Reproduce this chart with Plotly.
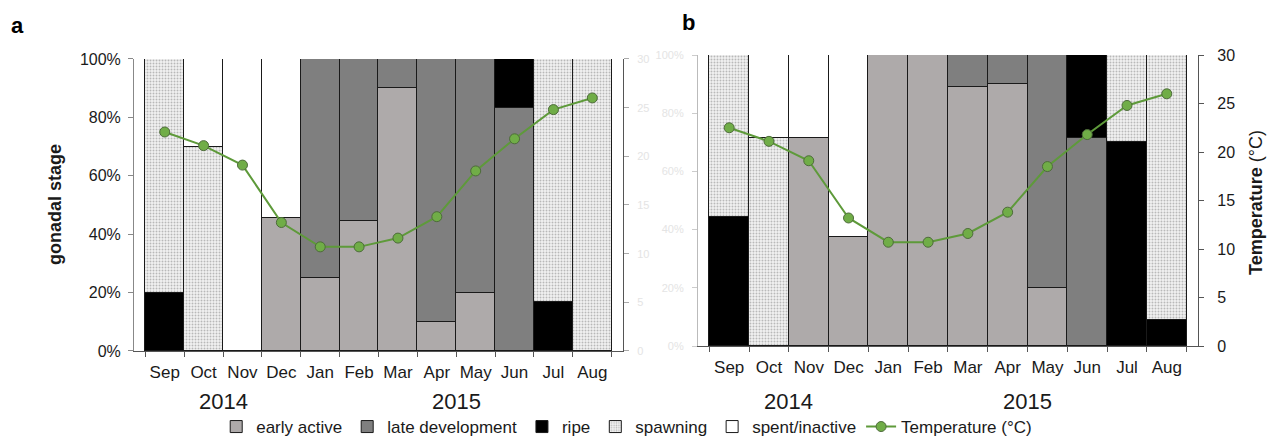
import plotly.graph_objects as go

# Sampling months (Sep 2014 - Aug 2015)
months = ["Sep", "Oct", "Nov", "Dec", "Jan", "Feb", "Mar", "Apr", "May", "Jun", "Jul", "Aug"]

# Mean monthly water temperature (°C)
temperature = [22.5, 21.1, 19.1, 13.2, 10.7, 10.7, 11.6, 13.8, 18.5, 21.8, 24.8, 26.0]

# Panel a: proportion of each gonadal stage (%)
a_early_active = [0, 0, 0, 45.5, 25.0, 44.4, 90.0, 10.0, 20.0, 0, 0, 0]
a_late_development = [0, 0, 0, 0, 75.0, 55.6, 10.0, 90.0, 80.0, 83.3, 0, 0]
a_ripe = [20.0, 0, 0, 0, 0, 0, 0, 0, 0, 16.7, 16.7, 0]
a_spawning = [80.0, 70.0, 0, 0, 0, 0, 0, 0, 0, 0, 83.3, 100.0]
a_spent_inactive = [0, 30.0, 100.0, 54.5, 0, 0, 0, 0, 0, 0, 0, 0]

# Panel b: proportion of each gonadal stage (%)
b_early_active = [0, 0, 71.4, 37.5, 100.0, 100.0, 88.9, 90.0, 20.0, 0, 0, 0]
b_late_development = [0, 0, 0, 0, 0, 0, 11.1, 10.0, 80.0, 71.4, 0, 0]
b_ripe = [44.4, 0, 0, 0, 0, 0, 0, 0, 0, 28.6, 70.0, 9.1]
b_spawning = [55.6, 71.4, 0, 0, 0, 0, 0, 0, 0, 0, 30.0, 90.9]
b_spent_inactive = [0, 28.6, 28.6, 62.5, 0, 0, 0, 0, 0, 0, 0, 0]

stage_names = ["early active", "late development", "ripe", "spawning", "spent/inactive"]
years = ["2014", "2015"]

FONT = "Liberation Sans, Arial, sans-serif"
stage_fill = {
    "early active": "#aeaaaa",
    "late development": "#7f7f7f",
    "ripe": "#000000",
    "spawning": "#e6e6e6",
    "spent/inactive": "#ffffff",
}

fig = go.Figure()

panels = [
    ("x", "y", [a_early_active, a_late_development, a_ripe, a_spawning, a_spent_inactive], "y2"),
    ("x2", "y3", [b_early_active, b_late_development, b_ripe, b_spawning, b_spent_inactive], "y4"),
]

for p, (xa, ya, stages, ta) in enumerate(panels):
    for name, vals in zip(stage_names, stages):
        marker = dict(color=stage_fill[name], line=dict(color="#1a1a1a", width=1))
        if name == "spawning":
            marker["pattern"] = dict(shape=".", fgcolor="#7a7a7a", bgcolor="#f2f2f2",
                                     size=3, solidity=0.3, fillmode="overlay")
        fig.add_trace(go.Bar(
            x=months, y=[v / 100 for v in vals], name=name, marker=marker,
            xaxis=xa, yaxis=ya, showlegend=(p == 0), legendgroup=name,
        ))
    fig.add_trace(go.Scatter(
        x=months, y=temperature, name="Temperature (°C)", mode="lines+markers",
        line=dict(color="#5e9a3a", width=2),
        marker=dict(size=10, color="#70ad47", line=dict(color="#4d6b3a", width=1)),
        xaxis=xa, yaxis=ta, showlegend=(p == 0), legendgroup="temp",
    ))

tickfont = dict(family=FONT, size=16, color="#1a1a1a")
monthfont = dict(family=FONT, size=17, color="#1a1a1a")
faint = dict(family=FONT, size=11, color="#e4e4e4")

xcommon = dict(type="category", tickson="boundaries", ticks="outside", ticklen=5,
               tickcolor="#555555", showline=True, linecolor="#555555", linewidth=1,
               tickfont=monthfont, tickangle=0, ticklabelstandoff=6,
               showgrid=False, zeroline=False, automargin=False)
pct_common = dict(range=[0, 1], dtick=0.2, tickformat=".0%", ticks="outside", ticklen=5,
                  showline=True, linewidth=1, showgrid=False, zeroline=False,
                  automargin=False)
temp_common = dict(range=[0, 30], dtick=5, ticks="outside", ticklen=5, showline=True,
                   linewidth=1, showgrid=False, zeroline=False, side="right",
                   automargin=False)

fig.update_layout(
    width=1279, height=437,
    margin=dict(l=0, r=0, t=0, b=0, autoexpand=False),
    paper_bgcolor="white", plot_bgcolor="white",
    barmode="stack", bargap=0,
    font=dict(family=FONT, size=16, color="#1a1a1a"),
    xaxis=dict(xcommon, domain=[0.1048, 0.4871], anchor="y"),
    xaxis2=dict(xcommon, domain=[0.5457, 0.9367], anchor="y3"),
    yaxis=dict(pct_common, domain=[0.1968, 0.865], anchor="x", linecolor="#888888",
               tickcolor="#888888", tickfont=tickfont, ticklabelstandoff=4),
    yaxis2=dict(temp_common, overlaying="y", anchor="x", linecolor="#555555",
                tickcolor="#aaaaaa", tickfont=faint, ticklabelstandoff=6),
    yaxis3=dict(pct_common, domain=[0.2082, 0.8741], anchor="x2", linecolor="#bbbbbb",
                tickcolor="#cccccc", tickfont=faint, ticklabelstandoff=6),
    yaxis4=dict(temp_common, overlaying="y3", anchor="x2", linecolor="#555555",
                tickcolor="#555555", tickfont=tickfont, ticklabelstandoff=10),
    legend=dict(orientation="h", x=0.49, xanchor="center", y=1 - 427 / 437, yanchor="middle",
                font=dict(family=FONT, size=17, color="#1a1a1a"),
                itemwidth=30, tracegroupgap=0, bgcolor="rgba(0,0,0,0)"),
)

# Year labels under each month group, panel letters and axis titles
ann = []
for xref, (x2014, x2015) in [("x", (1.5, 7.5)), ("x2", (1.5, 7.5))]:
    for xv, yr in zip((x2014, x2015), years):
        ann.append(dict(x=xv, xref=xref, y=1 - 401 / 437, yref="paper", yanchor="middle",
                        xanchor="center", text=yr, showarrow=False,
                        font=dict(family=FONT, size=22, color="#1a1a1a")))
ann += [
    dict(x=17 / 1279, y=1 - 25 / 437, xref="paper", yref="paper", text="<b>a</b>",
         xanchor="center", yanchor="middle", showarrow=False,
         font=dict(family=FONT, size=22, color="#000000")),
    dict(x=688 / 1279, y=1 - 23 / 437, xref="paper", yref="paper", text="<b>b</b>",
         xanchor="center", yanchor="middle", showarrow=False,
         font=dict(family=FONT, size=22, color="#000000")),
    dict(x=55 / 1279, y=1 - 205 / 437, xref="paper", yref="paper", text="<b>gonadal stage</b>",
         xanchor="center", yanchor="middle", textangle=-90, showarrow=False,
         font=dict(family=FONT, size=18, color="#1a1a1a")),
    dict(x=1256 / 1279, y=1 - 203 / 437, xref="paper", yref="paper", text="<b>Temperature</b> (°C)",
         xanchor="center", yanchor="middle", textangle=-90, showarrow=False,
         font=dict(family=FONT, size=18, color="#1a1a1a")),
]
fig.update_layout(annotations=ann)

fig.write_html("out.html")
